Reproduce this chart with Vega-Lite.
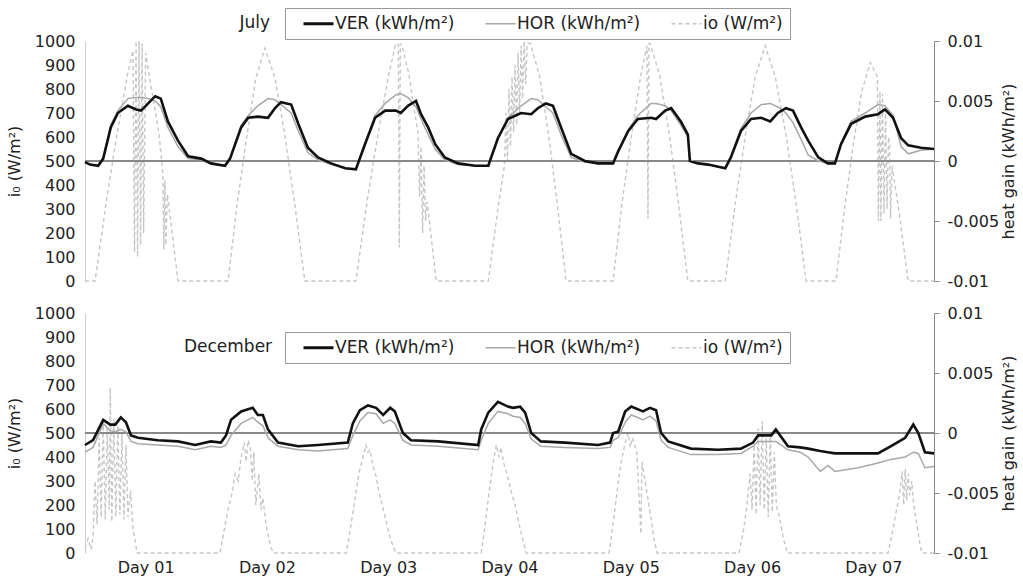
{
"$schema":"https://vega.github.io/schema/vega-lite/v6.json",
"padding":{"left":6,"top":7,"right":2,"bottom":2},
"config":{"font":"DejaVu Sans","view":{"stroke":null},"axis":{"labelFont":"DejaVu Sans","labelFontSize":16,"labelColor":"#222","titleFont":"DejaVu Sans","titleFontSize":16,"titleFontWeight":"normal","titleColor":"#222","grid":false}},
"datasets":{
"jul":[{"t":0,"v":-0.0001,"h":-0.0001},{"t":1.0,"v":-0.0003,"h":-0.0003},{"t":2.6,"v":-0.0004,"h":-0.0004},{"t":3.6,"v":0.0002,"h":0.0003},{"t":5.1,"v":0.0028,"h":0.003},{"t":6.5,"v":0.004,"h":0.0042},{"t":8.5,"v":0.0046,"h":0.0052},{"t":10.1,"v":0.0043,"h":0.0053},{"t":11.1,"v":0.0042,"h":0.0053},{"t":12.5,"v":0.0048,"h":0.0052},{"t":13.9,"v":0.0054,"h":0.005},{"t":15.0,"v":0.0052,"h":0.0045},{"t":16.4,"v":0.0033,"h":0.0028},{"t":18.4,"v":0.0017,"h":0.0012},{"t":20.4,"v":0.0004,"h":0.0002},{"t":23.0,"v":0.0002,"h":0.0001},{"t":24.9,"v":-0.0002,"h":-0.0002},{"t":27.7,"v":-0.0004,"h":-0.0004},{"t":28.7,"v":0.0002,"h":0.0002},{"t":30.9,"v":0.0028,"h":0.003},{"t":32.3,"v":0.0036,"h":0.0038},{"t":34.2,"v":0.0037,"h":0.0046},{"t":36.2,"v":0.0036,"h":0.0052},{"t":37.6,"v":0.0044,"h":0.0051},{"t":38.8,"v":0.0049,"h":0.0047},{"t":40.8,"v":0.0047,"h":0.004},{"t":42.2,"v":0.0031,"h":0.0025},{"t":44.1,"v":0.0011,"h":0.0007},{"t":46.1,"v":0.0003,"h":0.0001},{"t":48.7,"v":-0.0002,"h":-0.0003},{"t":51.5,"v":-0.0006,"h":-0.0006},{"t":53.6,"v":-0.0007,"h":-0.0007},{"t":55.4,"v":0.0014,"h":0.0015},{"t":57.4,"v":0.0036,"h":0.0038},{"t":59.4,"v":0.0042,"h":0.0048},{"t":61.5,"v":0.0042,"h":0.0055},{"t":62.5,"v":0.004,"h":0.0056},{"t":63.9,"v":0.0046,"h":0.0053},{"t":65.5,"v":0.005,"h":0.0045},{"t":66.5,"v":0.0039,"h":0.0035},{"t":67.9,"v":0.0028,"h":0.0022},{"t":69.3,"v":0.0014,"h":0.001},{"t":71.2,"v":0.0003,"h":0.0001},{"t":73.8,"v":-0.0002,"h":-0.0003},{"t":77.2,"v":-0.0004,"h":-0.0004},{"t":79.8,"v":-0.0004,"h":-0.0004},{"t":81.7,"v":0.0019,"h":0.0018},{"t":83.7,"v":0.0035,"h":0.0036},{"t":86.3,"v":0.004,"h":0.0046},{"t":88.3,"v":0.0039,"h":0.0052},{"t":89.6,"v":0.0044,"h":0.0051},{"t":91.2,"v":0.0048,"h":0.0045},{"t":92.6,"v":0.0046,"h":0.004},{"t":94.2,"v":0.0028,"h":0.0022},{"t":96.2,"v":0.0006,"h":0.0003},{"t":98.9,"v":0,"h":-0.0001},{"t":101.5,"v":-0.0002,"h":-0.0002},{"t":104.5,"v":-0.0002,"h":-0.0002},{"t":105.5,"v":0.0008,"h":0.0008},{"t":107.5,"v":0.0025,"h":0.0026},{"t":109.4,"v":0.0035,"h":0.0038},{"t":112.0,"v":0.0036,"h":0.0048},{"t":113.0,"v":0.0035,"h":0.0048},{"t":114.8,"v":0.0042,"h":0.0046},{"t":116.0,"v":0.0044,"h":0.0042},{"t":117.9,"v":0.0033,"h":0.003},{"t":119.3,"v":0.0022,"h":0.002},{"t":119.7,"v":0,"h":0.0001},{"t":121.3,"v":-0.0002,"h":-0.0002},{"t":123.3,"v":-0.0003,"h":-0.0003},{"t":126.7,"v":-0.0006,"h":-0.0006},{"t":127.8,"v":0.0003,"h":0.0004},{"t":129.8,"v":0.0025,"h":0.0027},{"t":131.8,"v":0.0035,"h":0.004},{"t":133.8,"v":0.0036,"h":0.0047},{"t":135.6,"v":0.0033,"h":0.0048},{"t":137.1,"v":0.004,"h":0.0045},{"t":138.7,"v":0.0044,"h":0.004},{"t":140.1,"v":0.0042,"h":0.0032},{"t":141.7,"v":0.0028,"h":0.0018},{"t":143.1,"v":0.0017,"h":0.0005},{"t":145.1,"v":0.0003,"h":0},{"t":147.0,"v":-0.0002,"h":-0.0002},{"t":148.4,"v":-0.0002,"h":-0.0002},{"t":149.6,"v":0.0014,"h":0.0015},{"t":151.6,"v":0.0031,"h":0.0033},{"t":154.4,"v":0.0037,"h":0.004},{"t":156.9,"v":0.0039,"h":0.0047},{"t":158.3,"v":0.0043,"h":0.0046},{"t":159.9,"v":0.0036,"h":0.0038},{"t":161.5,"v":0.0019,"h":0.0012},{"t":162.9,"v":0.0013,"h":0.0006},{"t":165.4,"v":0.0011,"h":0.0009},{"t":168,"v":0.001,"h":0.001}],
"julio":[{"t":0,"i":0},{"t":2.0,"i":0},{"t":4.2,"i":330},{"t":6.4,"i":620},{"t":8.5,"i":870},{"t":9.5,"i":960},{"t":9.8,"i":120},{"t":10.1,"i":1000},{"t":10.4,"i":100},{"t":10.7,"i":1000},{"t":11.0,"i":150},{"t":11.3,"i":990},{"t":11.6,"i":200},{"t":12.0,"i":950},{"t":12.6,"i":870},{"t":14.6,"i":620},{"t":15.4,"i":450},{"t":15.6,"i":130},{"t":15.8,"i":420},{"t":16.0,"i":150},{"t":16.3,"i":360},{"t":16.5,"i":330},{"t":18.4,"i":0},{"t":28.3,"i":0},{"t":30.1,"i":320},{"t":32.0,"i":600},{"t":33.8,"i":845},{"t":35.6,"i":970},{"t":37.6,"i":845},{"t":39.6,"i":600},{"t":41.5,"i":320},{"t":43.5,"i":0},{"t":53.6,"i":0},{"t":55.8,"i":330},{"t":58.0,"i":615},{"t":60.1,"i":860},{"t":61.5,"i":990},{"t":62.0,"i":985},{"t":62.2,"i":140},{"t":62.4,"i":990},{"t":63.0,"i":960},{"t":64.1,"i":860},{"t":65.9,"i":615},{"t":66.2,"i":350},{"t":66.5,"i":560},{"t":66.8,"i":200},{"t":67.1,"i":480},{"t":67.4,"i":250},{"t":67.7,"i":330},{"t":69.5,"i":0},{"t":79.8,"i":0},{"t":81.9,"i":330},{"t":83.0,"i":480},{"t":83.3,"i":700},{"t":83.6,"i":500},{"t":83.9,"i":800},{"t":84.2,"i":560},{"t":84.5,"i":850},{"t":84.8,"i":620},{"t":85.1,"i":900},{"t":85.4,"i":650},{"t":85.7,"i":950},{"t":86.0,"i":700},{"t":86.3,"i":980},{"t":86.6,"i":760},{"t":86.9,"i":1000},{"t":87.2,"i":820},{"t":87.5,"i":990},{"t":88.1,"i":990},{"t":89.9,"i":860},{"t":91.7,"i":615},{"t":93.4,"i":330},{"t":95.2,"i":0},{"t":104.5,"i":0},{"t":106.3,"i":330},{"t":108.2,"i":615},{"t":110.0,"i":860},{"t":111.2,"i":980},{"t":111.4,"i":260},{"t":111.6,"i":990},{"t":111.8,"i":990},{"t":113.7,"i":860},{"t":115.6,"i":615},{"t":117.4,"i":330},{"t":119.3,"i":0},{"t":126.7,"i":0},{"t":128.7,"i":325},{"t":130.7,"i":610},{"t":132.6,"i":850},{"t":134.6,"i":980},{"t":136.6,"i":850},{"t":138.7,"i":610},{"t":140.7,"i":325},{"t":142.7,"i":0},{"t":148.6,"i":0},{"t":150.3,"i":300},{"t":152.0,"i":565},{"t":153.7,"i":790},{"t":155.4,"i":910},{"t":156.8,"i":850},{"t":157.0,"i":250},{"t":157.3,"i":790},{"t":157.5,"i":250},{"t":157.8,"i":780},{"t":158.1,"i":280},{"t":158.4,"i":700},{"t":158.7,"i":300},{"t":159.0,"i":600},{"t":159.2,"i":565},{"t":159.4,"i":260},{"t":159.7,"i":480},{"t":161.0,"i":300},{"t":162.9,"i":0},{"t":168,"i":0}],
"dec":[{"t":0,"v":-0.001,"h":-0.0016},{"t":1.6,"v":-0.0006,"h":-0.0012},{"t":3.6,"v":0.0011,"h":0.0008},{"t":5.0,"v":0.0007,"h":0.0002},{"t":6.0,"v":0.0007,"h":0.0001},{"t":7.1,"v":0.0013,"h":0.0003},{"t":8.1,"v":0.0009,"h":0.0001},{"t":9.1,"v":-0.0002,"h":-0.0007},{"t":10.5,"v":-0.0004,"h":-0.0009},{"t":14.4,"v":-0.0006,"h":-0.001},{"t":18.4,"v":-0.0007,"h":-0.0011},{"t":21.8,"v":-0.001,"h":-0.0014},{"t":24.9,"v":-0.0007,"h":-0.0011},{"t":26.9,"v":-0.0008,"h":-0.0012},{"t":27.9,"v":-0.0002,"h":-0.001},{"t":28.9,"v":0.0011,"h":-0.0002},{"t":30.9,"v":0.0018,"h":0.0008},{"t":33.2,"v":0.0021,"h":0.0013},{"t":34.2,"v":0.0015,"h":0.0009},{"t":35.2,"v":0.0015,"h":0.0006},{"t":36.2,"v":0.0003,"h":-0.0004},{"t":38.2,"v":-0.0008,"h":-0.0011},{"t":42.2,"v":-0.0011,"h":-0.0014},{"t":46.1,"v":-0.001,"h":-0.0015},{"t":52.0,"v":-0.0008,"h":-0.0013},{"t":53.0,"v":0.0008,"h":-0.0002},{"t":54.4,"v":0.0019,"h":0.001},{"t":56.0,"v":0.0023,"h":0.0017},{"t":57.6,"v":0.0021,"h":0.0016},{"t":59.0,"v":0.0015,"h":0.0008},{"t":60.4,"v":0.0021,"h":0.0011},{"t":61.3,"v":0.0018,"h":0.0008},{"t":62.9,"v":0,"h":-0.0006},{"t":64.5,"v":-0.0006,"h":-0.001},{"t":69.9,"v":-0.0007,"h":-0.0011},{"t":77.8,"v":-0.001,"h":-0.0014},{"t":78.4,"v":0.0003,"h":-0.0006},{"t":79.8,"v":0.0017,"h":0.0008},{"t":81.7,"v":0.0026,"h":0.0018},{"t":83.7,"v":0.0022,"h":0.0016},{"t":84.7,"v":0.0021,"h":0.0014},{"t":86.1,"v":0.0022,"h":0.0013},{"t":87.1,"v":0.0017,"h":0.0008},{"t":88.3,"v":0,"h":-0.0005},{"t":90.2,"v":-0.0007,"h":-0.0011},{"t":95.0,"v":-0.0008,"h":-0.0012},{"t":101.5,"v":-0.001,"h":-0.0013},{"t":103.9,"v":-0.0008,"h":-0.0012},{"t":104.5,"v":0,"h":-0.0006},{"t":105.5,"v":0.0001,"h":-0.0004},{"t":106.9,"v":0.0018,"h":0.0009},{"t":108.1,"v":0.0022,"h":0.0015},{"t":110.4,"v":0.0018,"h":0.0011},{"t":111.8,"v":0.0021,"h":0.0014},{"t":113.0,"v":0.0019,"h":0.001},{"t":114.0,"v":0,"h":-0.0006},{"t":115.4,"v":-0.0007,"h":-0.0012},{"t":119.9,"v":-0.0013,"h":-0.0018},{"t":125.3,"v":-0.0014,"h":-0.0018},{"t":129.8,"v":-0.0013,"h":-0.0017},{"t":132.2,"v":-0.0008,"h":-0.0011},{"t":133.2,"v":-0.0002,"h":-0.0007},{"t":135.8,"v":-0.0002,"h":-0.0007},{"t":136.7,"v":0.0003,"h":-0.0007},{"t":139.1,"v":-0.0011,"h":-0.0014},{"t":141.5,"v":-0.0012,"h":-0.0016},{"t":143.1,"v":-0.0013,"h":-0.002},{"t":145.5,"v":-0.0015,"h":-0.0032},{"t":147.0,"v":-0.0016,"h":-0.0027},{"t":148.4,"v":-0.0017,"h":-0.0032},{"t":153.0,"v":-0.0017,"h":-0.0029},{"t":156.9,"v":-0.0017,"h":-0.0025},{"t":159.5,"v":-0.0011,"h":-0.0022},{"t":162.3,"v":-0.0004,"h":-0.002},{"t":163.9,"v":0.0007,"h":-0.0016},{"t":164.9,"v":0,"h":-0.0017},{"t":166.2,"v":-0.0016,"h":-0.0029},{"t":168,"v":-0.0017,"h":-0.0028}],
"decio":[{"t":0,"i":20},{"t":0.6,"i":60},{"t":1.2,"i":15},{"t":1.6,"i":70},{"t":2.0,"i":300},{"t":2.4,"i":120},{"t":2.8,"i":480},{"t":3.2,"i":150},{"t":3.6,"i":550},{"t":4.0,"i":140},{"t":4.4,"i":520},{"t":4.8,"i":180},{"t":5.0,"i":690},{"t":5.3,"i":130},{"t":5.7,"i":560},{"t":6.1,"i":150},{"t":6.5,"i":530},{"t":6.9,"i":160},{"t":7.3,"i":500},{"t":7.7,"i":140},{"t":8.1,"i":450},{"t":8.5,"i":150},{"t":9.0,"i":260},{"t":9.5,"i":100},{"t":10.0,"i":40},{"t":10.3,"i":0},{"t":26.7,"i":0},{"t":27.5,"i":90},{"t":28.3,"i":180},{"t":29.1,"i":250},{"t":29.7,"i":330},{"t":30.3,"i":300},{"t":30.9,"i":400},{"t":31.5,"i":460},{"t":31.9,"i":380},{"t":32.3,"i":470},{"t":32.7,"i":440},{"t":33.1,"i":300},{"t":33.4,"i":420},{"t":33.8,"i":200},{"t":34.4,"i":330},{"t":34.8,"i":180},{"t":35.2,"i":230},{"t":35.8,"i":120},{"t":36.6,"i":40},{"t":37.2,"i":0},{"t":51.7,"i":0},{"t":52.5,"i":100},{"t":53.4,"i":220},{"t":54.2,"i":330},{"t":55.0,"i":400},{"t":55.6,"i":450},{"t":56.0,"i":420},{"t":56.4,"i":430},{"t":57.0,"i":360},{"t":57.6,"i":320},{"t":58.2,"i":250},{"t":58.8,"i":200},{"t":59.4,"i":150},{"t":60.4,"i":60},{"t":61.5,"i":0},{"t":78.4,"i":0},{"t":79.2,"i":120},{"t":80.0,"i":260},{"t":80.8,"i":380},{"t":81.4,"i":450},{"t":81.9,"i":400},{"t":82.3,"i":440},{"t":82.9,"i":370},{"t":83.5,"i":330},{"t":84.3,"i":260},{"t":85.1,"i":200},{"t":85.9,"i":120},{"t":86.7,"i":50},{"t":87.3,"i":0},{"t":103.7,"i":0},{"t":104.5,"i":120},{"t":105.3,"i":260},{"t":106.1,"i":380},{"t":106.9,"i":460},{"t":107.5,"i":500},{"t":107.9,"i":440},{"t":108.3,"i":480},{"t":109.2,"i":420},{"t":110.0,"i":80},{"t":110.2,"i":380},{"t":111.0,"i":280},{"t":111.8,"i":170},{"t":112.6,"i":60},{"t":113.2,"i":0},{"t":129.4,"i":0},{"t":130.2,"i":80},{"t":131.0,"i":200},{"t":131.6,"i":330},{"t":132.0,"i":180},{"t":132.4,"i":450},{"t":132.8,"i":160},{"t":133.2,"i":520},{"t":133.6,"i":200},{"t":134.0,"i":550},{"t":134.4,"i":180},{"t":134.8,"i":480},{"t":135.2,"i":150},{"t":135.6,"i":500},{"t":136.0,"i":170},{"t":136.4,"i":420},{"t":136.8,"i":200},{"t":137.4,"i":150},{"t":138.2,"i":60},{"t":139.0,"i":0},{"t":158.9,"i":0},{"t":159.7,"i":80},{"t":160.5,"i":170},{"t":161.3,"i":260},{"t":161.7,"i":340},{"t":162.0,"i":200},{"t":162.3,"i":350},{"t":162.6,"i":220},{"t":162.9,"i":330},{"t":163.2,"i":240},{"t":163.6,"i":300},{"t":164.0,"i":200},{"t":164.6,"i":120},{"t":165.2,"i":40},{"t":165.6,"i":0},{"t":168,"i":0}]
},
"spacing":16,
"resolve":{"scale":{"color":"independent"}},
"vconcat":[
{"width":849,"height":240,
 "resolve":{"scale":{"y":"independent"}},
 "layer":[
  {"data":{"name":"julio"},"mark":{"type":"line","strokeDash":[4,3],"strokeWidth":1.4},
   "encoding":{
    "x":{"field":"t","type":"quantitative","scale":{"domain":[0,168],"nice":false,"zero":false},"axis":null},
    "y":{"field":"i","type":"quantitative","scale":{"domain":[0,1000],"nice":false},"axis":{"orient":"left","values":[0,100,200,300,400,500,600,700,800,900,1000],"format":"d","ticks":false,"domainColor":"#cccccc","labelPadding":10,"titlePadding":12,"title":"i₀ (W/m²)"}},
    "color":{"datum":"io (W/m²)","type":"nominal","scale":{"domain":["VER (kWh/m²)","HOR (kWh/m²)","io (W/m²)"],"range":["#111111","#a8a8a8","#c6c6c6"]},
     "legend":{"orient":"none","legendX":200,"legendY":-33,"direction":"horizontal","title":null,"strokeColor":"#999999","fillColor":"white","padding":7,"symbolSize":900,"symbolType":"stroke","symbolOffset":18,"labelFontSize":17,"labelFont":"DejaVu Sans","labelColor":"#222","columnPadding":19,"labelOffset":8,"labelLimit":400,
      "encode":{"symbols":{"update":{"strokeDash":{"signal":"datum.value === 'io (W/m²)' ? [4,3] : [1,0]"},"strokeWidth":{"signal":"datum.value === 'VER (kWh/m²)' ? 3 : 1.5"}}}}}}}},
  {"data":{"name":"jul"},
   "layer":[
    {"mark":{"type":"rule","color":"#888888","strokeWidth":1.2},"encoding":{"y":{"datum":0,"type":"quantitative","scale":{"domain":[-0.01,0.01],"nice":false},"axis":{"orient":"right","values":[-0.01,-0.005,0,0.005,0.01],"labelExpr":"datum.value == 0 ? '0' : replace(format(datum.value, '~g'), '−', '-')","tickColor":"#888888","domainColor":"#888888","tickSize":5,"labelPadding":8,"titlePadding":2,"titleAngle":-90,"titleBaseline":"top","title":"heat gain (kWh/m²)"}}}},
    {"mark":{"type":"line","strokeWidth":1.5},"encoding":{"x":{"field":"t","type":"quantitative"},"y":{"field":"h","type":"quantitative","scale":{"domain":[-0.01,0.01],"nice":false},"axis":{"orient":"right","values":[-0.01,-0.005,0,0.005,0.01],"labelExpr":"datum.value == 0 ? '0' : replace(format(datum.value, '~g'), '−', '-')","tickColor":"#888888","domainColor":"#888888","tickSize":5,"labelPadding":8,"titlePadding":2,"titleAngle":-90,"titleBaseline":"top","title":"heat gain (kWh/m²)"}},"color":{"datum":"HOR (kWh/m²)","type":"nominal"}}},
    {"mark":{"type":"line","strokeWidth":2.6},"encoding":{"x":{"field":"t","type":"quantitative"},"y":{"field":"v","type":"quantitative","scale":{"domain":[-0.01,0.01],"nice":false},"axis":{"orient":"right","values":[-0.01,-0.005,0,0.005,0.01],"labelExpr":"datum.value == 0 ? '0' : replace(format(datum.value, '~g'), '−', '-')","tickColor":"#888888","domainColor":"#888888","tickSize":5,"labelPadding":8,"titlePadding":2,"titleAngle":-90,"titleBaseline":"top","title":"heat gain (kWh/m²)"}},"color":{"datum":"VER (kWh/m²)","type":"nominal"}}},
    {"data":{"values":[{"label":"July"}]},"mark":{"type":"text","fontSize":17,"color":"#222","align":"center","baseline":"middle"},"encoding":{"x":{"datum":33.6,"type":"quantitative"},"y":{"datum":0.0115,"type":"quantitative","scale":{"domain":[-0.01,0.01],"nice":false},"axis":{"orient":"right","values":[-0.01,-0.005,0,0.005,0.01],"labelExpr":"datum.value == 0 ? '0' : replace(format(datum.value, '~g'), '−', '-')","tickColor":"#888888","domainColor":"#888888","tickSize":5,"labelPadding":8,"titlePadding":2,"titleAngle":-90,"titleBaseline":"top","title":"heat gain (kWh/m²)"}},"text":{"field":"label"}}}
   ]}
 ]},
{"width":849,"height":240,
 "resolve":{"scale":{"y":"independent"}},
 "layer":[
  {"data":{"name":"decio"},"mark":{"type":"line","strokeDash":[4,3],"strokeWidth":1.4},
   "encoding":{
    "x":{"field":"t","type":"quantitative","scale":{"domain":[0,168],"nice":false,"zero":false},"axis":{"values":[12,36,60,84,108,132,156],"labelExpr":"'Day 0' + round((datum.value + 12) / 24)","ticks":false,"domain":false,"labelPadding":6,"title":null}},
    "y":{"field":"i","type":"quantitative","scale":{"domain":[0,1000],"nice":false},"axis":{"orient":"left","values":[0,100,200,300,400,500,600,700,800,900,1000],"format":"d","ticks":false,"domainColor":"#cccccc","labelPadding":10,"titlePadding":12,"title":"i₀ (W/m²)"}},
    "color":{"datum":"io (W/m²)","type":"nominal","scale":{"domain":["VER (kWh/m²)","HOR (kWh/m²)","io (W/m²)"],"range":["#111111","#a8a8a8","#c6c6c6"]},
     "legend":{"orient":"none","legendX":200,"legendY":19,"direction":"horizontal","title":null,"strokeColor":"#999999","fillColor":"white","padding":7,"symbolSize":900,"symbolType":"stroke","symbolOffset":18,"labelFontSize":17,"labelFont":"DejaVu Sans","labelColor":"#222","columnPadding":19,"labelOffset":8,"labelLimit":400,
      "encode":{"symbols":{"update":{"strokeDash":{"signal":"datum.value === 'io (W/m²)' ? [4,3] : [1,0]"},"strokeWidth":{"signal":"datum.value === 'VER (kWh/m²)' ? 3 : 1.5"}}}}}}}},
  {"data":{"name":"dec"},
   "layer":[
    {"mark":{"type":"rule","color":"#888888","strokeWidth":1.2},"encoding":{"y":{"datum":0,"type":"quantitative","scale":{"domain":[-0.01,0.01],"nice":false},"axis":{"orient":"right","values":[-0.01,-0.005,0,0.005,0.01],"labelExpr":"datum.value == 0 ? '0' : replace(format(datum.value, '~g'), '−', '-')","tickColor":"#888888","domainColor":"#888888","tickSize":5,"labelPadding":8,"titlePadding":2,"titleAngle":-90,"titleBaseline":"top","title":"heat gain (kWh/m²)"}}}},
    {"mark":{"type":"line","strokeWidth":1.5},"encoding":{"x":{"field":"t","type":"quantitative"},"y":{"field":"h","type":"quantitative","scale":{"domain":[-0.01,0.01],"nice":false},"axis":{"orient":"right","values":[-0.01,-0.005,0,0.005,0.01],"labelExpr":"datum.value == 0 ? '0' : replace(format(datum.value, '~g'), '−', '-')","tickColor":"#888888","domainColor":"#888888","tickSize":5,"labelPadding":8,"titlePadding":2,"titleAngle":-90,"titleBaseline":"top","title":"heat gain (kWh/m²)"}},"color":{"datum":"HOR (kWh/m²)","type":"nominal"}}},
    {"mark":{"type":"line","strokeWidth":2.6},"encoding":{"x":{"field":"t","type":"quantitative"},"y":{"field":"v","type":"quantitative","scale":{"domain":[-0.01,0.01],"nice":false},"axis":{"orient":"right","values":[-0.01,-0.005,0,0.005,0.01],"labelExpr":"datum.value == 0 ? '0' : replace(format(datum.value, '~g'), '−', '-')","tickColor":"#888888","domainColor":"#888888","tickSize":5,"labelPadding":8,"titlePadding":2,"titleAngle":-90,"titleBaseline":"top","title":"heat gain (kWh/m²)"}},"color":{"datum":"VER (kWh/m²)","type":"nominal"}}},
    {"data":{"values":[{"label":"December"}]},"mark":{"type":"text","fontSize":17,"color":"#222","align":"center","baseline":"middle"},"encoding":{"x":{"datum":28.3,"type":"quantitative"},"y":{"datum":0.0072,"type":"quantitative","scale":{"domain":[-0.01,0.01],"nice":false},"axis":{"orient":"right","values":[-0.01,-0.005,0,0.005,0.01],"labelExpr":"datum.value == 0 ? '0' : replace(format(datum.value, '~g'), '−', '-')","tickColor":"#888888","domainColor":"#888888","tickSize":5,"labelPadding":8,"titlePadding":2,"titleAngle":-90,"titleBaseline":"top","title":"heat gain (kWh/m²)"}},"text":{"field":"label"}}}
   ]}
 ]}
]
}
